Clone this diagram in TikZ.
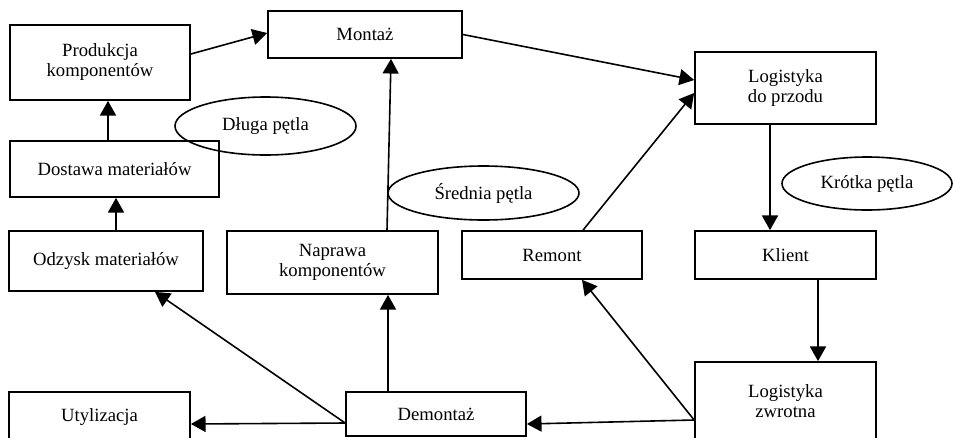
\documentclass[tikz,border=0pt]{standalone}
\usepackage{fontspec}
\setmainfont{Liberation Serif}
\usetikzlibrary{arrows.meta,shapes.geometric}
\begin{document}
\begin{tikzpicture}[
    x=0.75pt, y=-0.75pt,
    every node/.style={font=\fontsize{14}{15}\selectfont, align=center, text=black},
    block/.style={draw, rectangle, line width=1.3pt, inner sep=2pt}, % Style for the process boxes
    pill/.style={draw, ellipse, line width=1.2pt, inner sep=0pt},    % Style for the loop labels
    arr/.style={-{Triangle[length=11pt, width=12pt]}, line width=1.2pt}
]
    \useasboundingbox (0,0) rectangle (953,437);
    \clip (0,0) rectangle (953,437);

    % --- FORWARD CHAIN ---
    \node[block, minimum width=135pt, minimum height=56.25pt] (prod) at (100,62.5) {Produkcja\\komponentów};
    \node[block, minimum width=145.5pt, minimum height=35.25pt] (montaz) at (365,34.5) {Montaż};
    \node[block, minimum width=156.75pt, minimum height=42pt] (dostawa) at (114.5,169) {Dostawa materiałów};
    \node[block, minimum width=135.75pt, minimum height=54pt] (logdp) at (785.5,88) {Logistyka\\do przodu};

    % --- MIDDLE ROW ---
    \node[block, minimum width=145.5pt, minimum height=45pt] (odzysk) at (106,261) {Odzysk materiałów};
    \node[block, minimum width=158.25pt, minimum height=47.25pt] (naprawa) at (332.5,262.5) {Naprawa\\komponentów};
    \node[block, minimum width=135pt, minimum height=36pt] (remont) at (552,255) {Remont};
    \node[block, minimum width=135.75pt, minimum height=36pt] (klient) at (785.5,255) {Klient};

    % --- BOTTOM ROW (cut off by the page edge) ---
    \node[block, minimum width=135.75pt, minimum height=37.5pt] (utyl) at (99.5,417) {Utylizacja};
    \node[block, minimum width=135pt, minimum height=33pt] (demontaz) at (436,414) {Demontaż};
    \node[block, minimum width=135.75pt, minimum height=58.5pt] (logzw) at (785.5,401) {Logistyka\\zwrotna};

    % --- LOOP LABELS ---
    \node[pill, minimum width=135.75pt, minimum height=43.5pt] (dluga) at (265.5,126) {Długa pętla};
    \node[pill, minimum width=143.25pt, minimum height=40.5pt] (srednia) at (483.5,193) {Średnia pętla};
    \node[pill, minimum width=127.5pt, minimum height=39.75pt] (krotka) at (867,183.5) {Krótka pętla};

    % --- ARROWS ---
    \draw[arr] (prod.east |- 0,54) -- (montaz.west |- 0,33);
    \draw[arr] (montaz.east) -- (logdp.west |- 0,80);
    \draw[arr] (dostawa.north -| 108,0) -- (prod.south -| 108,0);
    \draw[arr] (odzysk.north -| 116,0) -- (dostawa.south -| 116,0);
    \draw[arr] (naprawa.north -| 387,0) -- (montaz.south -| 391,0);
    \draw[arr] (remont.north -| 583,0) -- (logdp.west |- 0,93);
    \draw[arr] (logdp.south -| 770,0) -- (klient.north -| 770,0);
    \draw[arr] (klient.south -| 818,0) -- (logzw.north -| 818,0);

    % return flows
    \draw[arr] (logzw.west |- 0,420) -- (remont.south -| 582,0);
    \draw[arr] (logzw.west |- 0,420) -- (demontaz.east |- 0,424);
    \draw[arr] (demontaz.west |- 0,423) -- (utyl.east |- 0,424);
    \draw[arr] (demontaz.west |- 0,423) -- (odzysk.south -| 155,0);
    \draw[arr] (demontaz.north -| 388,0) -- (naprawa.south -| 388,0);

\end{tikzpicture}
\end{document}
